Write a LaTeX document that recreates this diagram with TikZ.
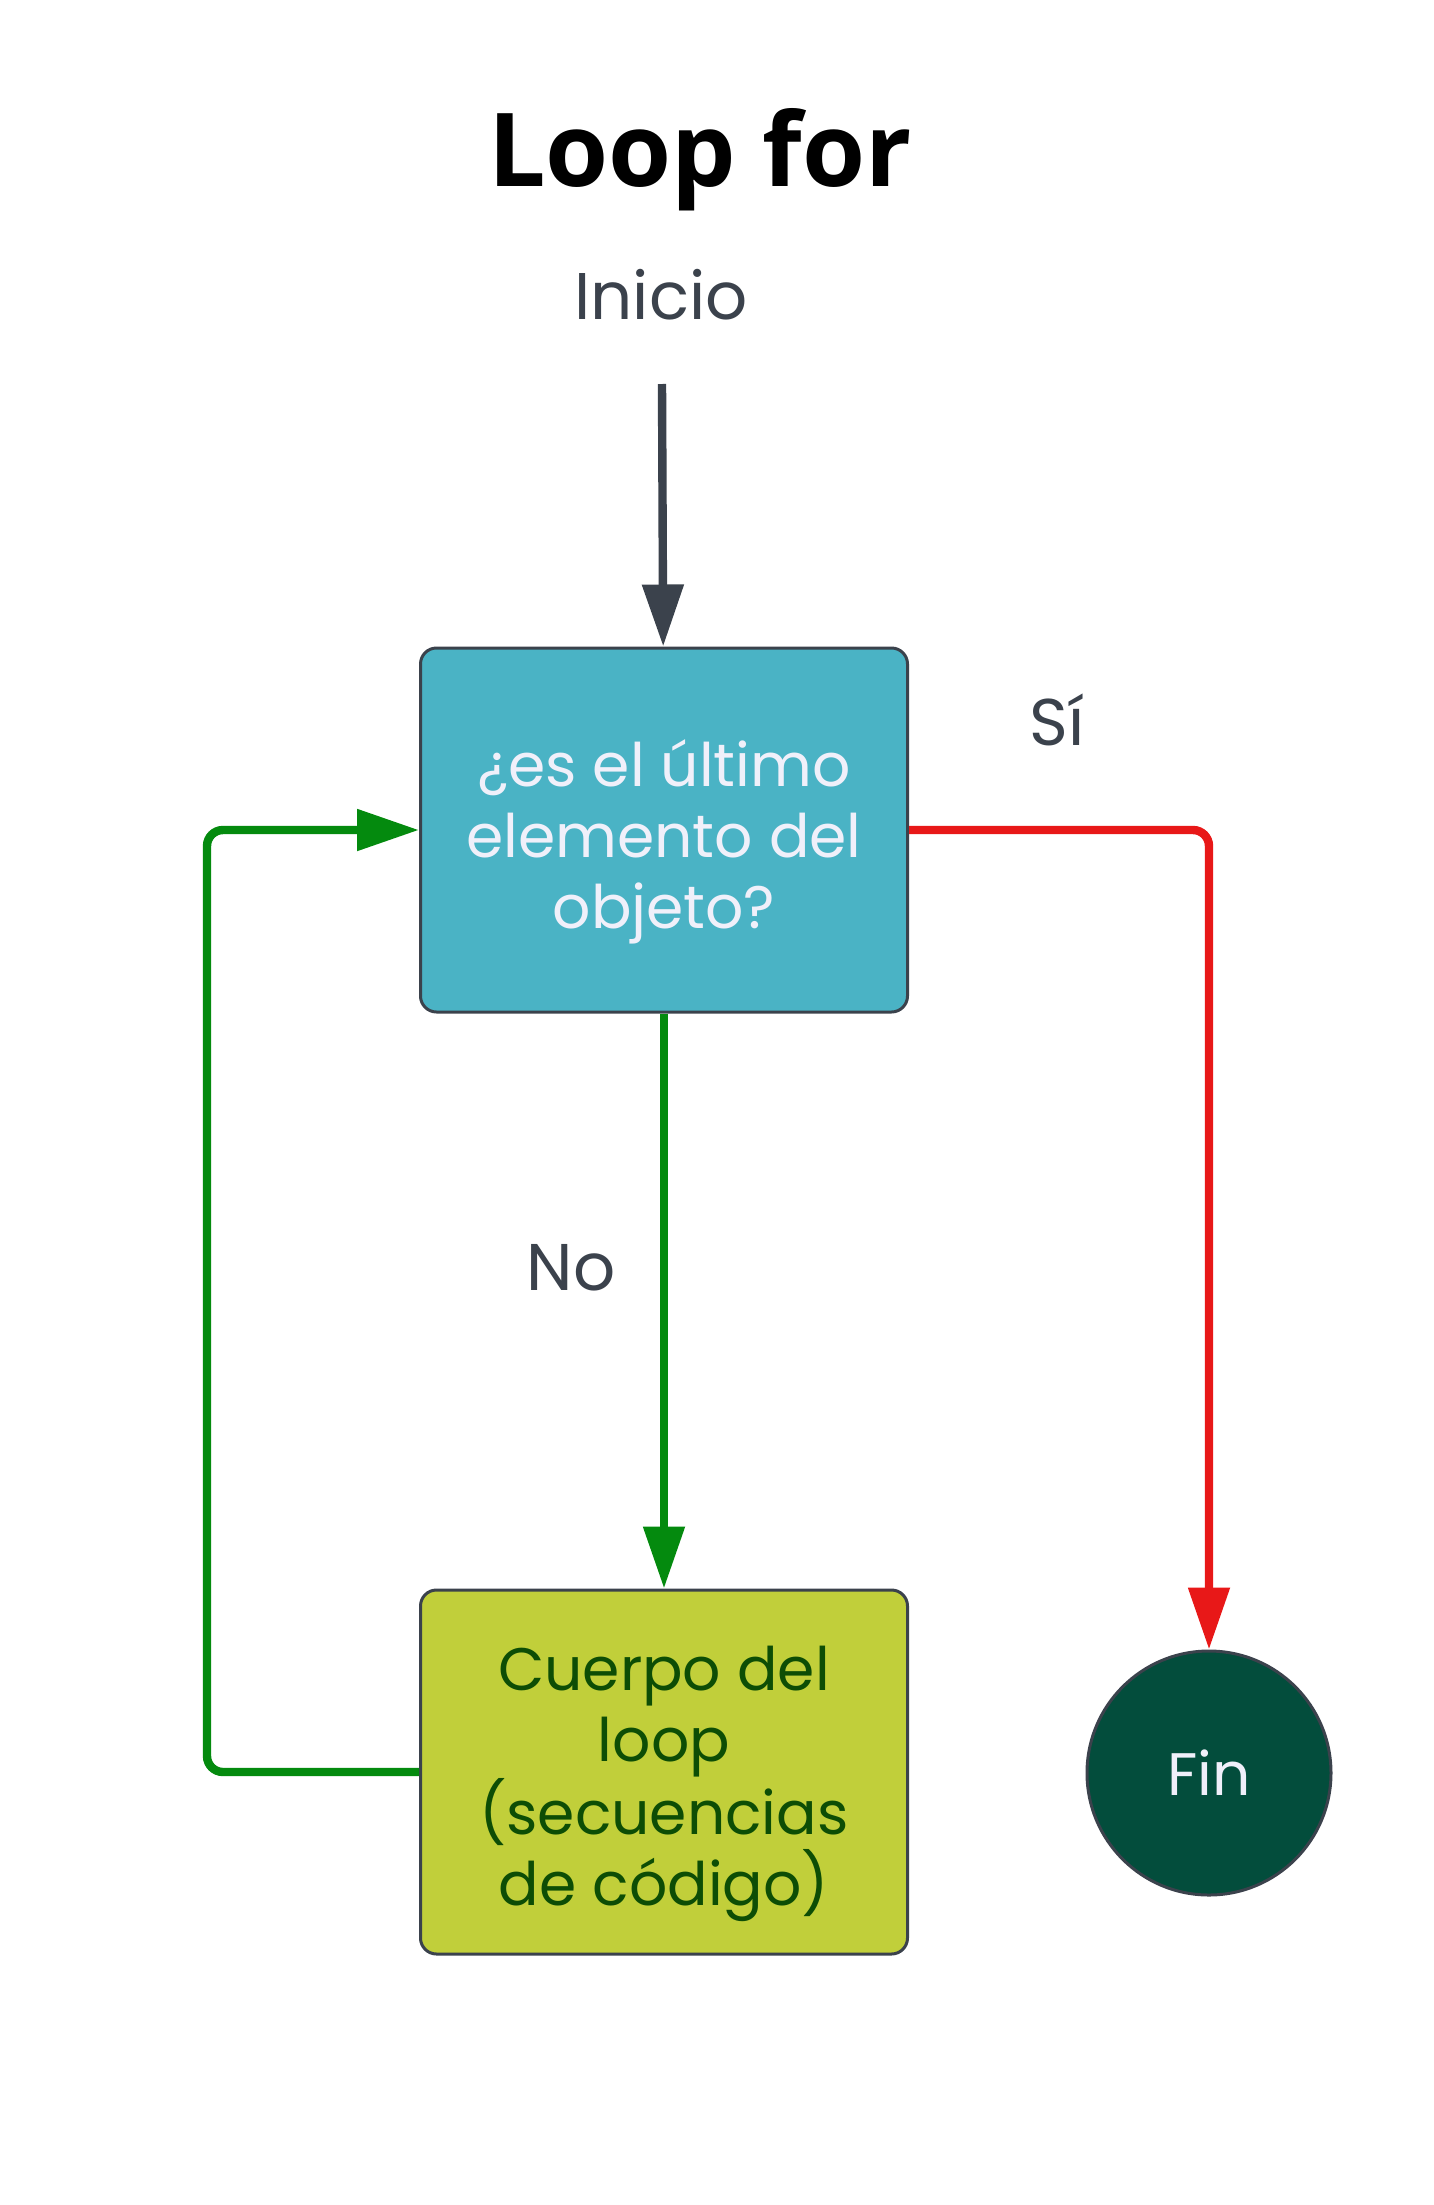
\documentclass[tikz,border=0pt]{standalone}
\usepackage{xcolor}
\usepackage{fontspec}
\setmainfont{Poppins}
\newfontfamily\titlefont{Open Sans}
\usepackage{tikz}
\usetikzlibrary{positioning,arrows.meta}

\definecolor{teal}{HTML}{4AB3C5}
\definecolor{lime}{HTML}{C1CF3A}
\definecolor{darkgreen}{HTML}{0D4D05}
\definecolor{finfill}{HTML}{034D3C}
\definecolor{slate}{HTML}{3B424C}
\definecolor{loopgreen}{HTML}{048A0E}
\definecolor{yesred}{HTML}{E81818}
\definecolor{paletext}{HTML}{F0F0FA}

% lines of a box, lowered a little inside the box
\newcommand{\boxlines}[1]{\raisebox{-6pt}[\height][\depth]{\parbox{240pt}{\centering #1}}}

\begin{document}
\begin{tikzpicture}[
    x=0.5pt, y=-0.5pt,
    title/.style={font=\titlefont\bfseries\fontsize{51pt}{56pt}\selectfont, text=black},
    tag/.style={font=\fontsize{33pt}{36pt}\selectfont, text=slate},
    decision/.style={rectangle, draw=slate, line width=1.5pt, fill=teal, rounded corners=8pt, minimum width=243.5pt, minimum height=182pt, inner sep=0pt, text=paletext, font=\fontsize{30pt}{35.5pt}\selectfont},
    block/.style={decision, fill=lime, text=darkgreen},
    terminal/.style={circle, draw=slate, line width=1.5pt, fill=finfill, minimum size=122pt, text=paletext, font=\fontsize{30pt}{35.5pt}\selectfont},
    arrow/.style={-{Triangle[length=31pt,width=20pt]}, line width=4.2pt, slate},
]
    \useasboundingbox (0,0) rectangle (1434,2205);

    % Title and start
    \node[title] (titulo) at (700,160) {Loop for};
    \node[tag] (inicio) at (661,295) {Inicio};
    \coordinate (arranque) at (662,384);

    % Blocks
    \node[decision] (pregunta) at (664,830) {\boxlines{¿es el último\\elemento del\\objeto?}};
    \node[block] (cuerpo) at (664,1772) {\boxlines{Cuerpo del\\loop\\(secuencias\\de código)}};
    \node[terminal] (fin) at (1209,1773) {Fin};

    % Labels
    \node[tag] (si) at (1057,720) {Sí};
    \node[tag] (no) at (571,1268) {No};

    % Flow
    \draw[arrow] (arranque) -- (pregunta);
    \draw[arrow, yesred, rounded corners=8pt] (pregunta.east) -| (fin.north);
    \draw[arrow, loopgreen] (pregunta) -- (cuerpo);
    \draw[arrow, loopgreen, rounded corners=8pt] (cuerpo.west) -- ++(-212,0) |- (pregunta.west);
\end{tikzpicture}
\end{document}
